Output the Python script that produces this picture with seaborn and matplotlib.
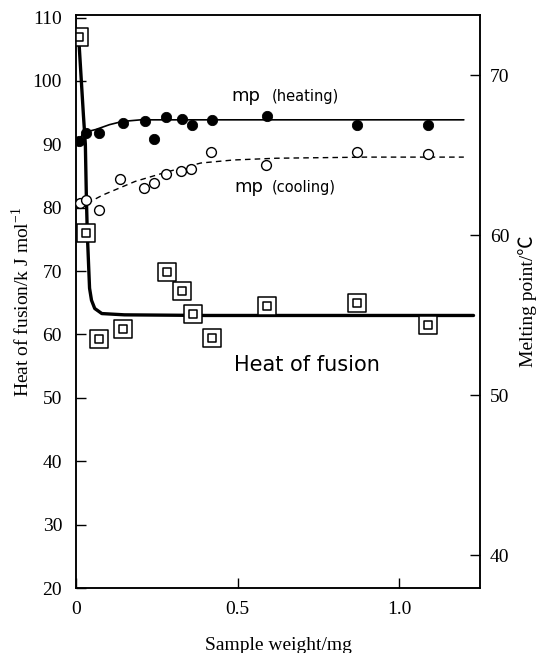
import matplotlib
matplotlib.use('Agg')
import matplotlib.pyplot as plt
import seaborn as sns

# heat of fusion (left axis, kJ/mol)
heat_w = [0.008, 0.032, 0.071, 0.144, 0.283, 0.329, 0.362, 0.420, 0.59, 0.87, 1.09]
heat_v = [107.0, 76.0, 59.3, 60.8, 69.8, 66.8, 63.3, 59.4, 64.5, 65.0, 61.5]
heat_curve_w = [0.010, 0.023, 0.029, 0.032, 0.035, 0.039, 0.042, 0.048, 0.058, 0.080, 0.15, 0.4, 0.8, 1.23]
heat_curve_v = [105.5, 94.6, 90.0, 82.0, 76.0, 71.0, 67.3, 65.4, 64.1, 63.3, 63.1, 63.0, 63.0, 63.0]

# melting points (right axis, deg C)
heat_mp_w = [0.008, 0.032, 0.071, 0.144, 0.215, 0.24, 0.278, 0.329, 0.36, 0.42, 0.59, 0.87, 1.09]
heat_mp_v = [65.85, 66.35, 66.35, 67.03, 67.1, 66.03, 67.35, 67.28, 66.9, 67.22, 67.47, 66.9, 66.9]
heat_mp_curve_w = [0.008, 0.023, 0.062, 0.104, 0.144, 0.2, 0.5, 0.9, 1.2]
heat_mp_curve_v = [65.85, 66.4, 66.6, 66.9, 67.1, 67.2, 67.2, 67.2, 67.2]

cool_mp_w = [0.011, 0.032, 0.071, 0.136, 0.211, 0.24, 0.278, 0.326, 0.357, 0.418, 0.587, 0.87, 1.09]
cool_mp_v = [62.0, 62.2, 61.56, 63.53, 62.97, 63.28, 63.84, 64.03, 64.1, 65.22, 64.4, 65.19, 65.06]
cool_mp_curve_w = [0.008, 0.083, 0.183, 0.286, 0.386, 0.487, 0.62, 0.9, 1.2]
cool_mp_curve_v = [61.7, 62.5, 63.35, 63.97, 64.5, 64.69, 64.8, 64.87, 64.87]

x_ticks = [0, 0.5, 1.0]
x_tick_labels = ['0', '0.5', '1.0']
left_ticks = list(range(20, 111, 10))
right_ticks = [40, 50, 60, 70]

sns.set_style('ticks')
plt.rcParams['font.family'] = ['Liberation Serif', 'Noto Sans CJK JP', 'DejaVu Sans']
plt.rcParams['mathtext.fontset'] = 'custom'
plt.rcParams['mathtext.rm'] = 'Liberation Serif'
for key in ['text.color', 'axes.labelcolor', 'xtick.color', 'ytick.color', 'axes.edgecolor']:
    plt.rcParams[key] = 'black'

fig = plt.figure(figsize=(5.49, 6.53), dpi=100)
ax = fig.add_axes([0.1384, 0.0995, 0.8743 - 0.1384, 0.977 - 0.0995])
ax2 = ax.twinx()

# heat of fusion
sns.lineplot(x=heat_curve_w, y=heat_curve_v, ax=ax, color='black', lw=2.4,
             sort=False, estimator=None)
sns.scatterplot(x=heat_w, y=heat_v, ax=ax, marker='s', s=160, facecolor='white',
                edgecolor='black', linewidth=1.1, zorder=5)
sns.scatterplot(x=heat_w, y=heat_v, ax=ax, marker='s', s=36, facecolor='white',
                edgecolor='black', linewidth=1.1, zorder=6)

# melting points
sns.lineplot(x=heat_mp_curve_w, y=heat_mp_curve_v, ax=ax2, color='black', lw=1.2,
             sort=False, estimator=None)
sns.lineplot(x=cool_mp_curve_w, y=cool_mp_curve_v, ax=ax2, color='black', lw=1.0,
             sort=False, estimator=None, linestyle=(0, (4, 3)))
sns.scatterplot(x=heat_mp_w, y=heat_mp_v, ax=ax2, marker='o', s=55, color='black',
                edgecolor='black', zorder=5)
sns.scatterplot(x=cool_mp_w, y=cool_mp_v, ax=ax2, marker='o', s=50, facecolor='white',
                edgecolor='black', linewidth=1.0, zorder=5)

ax.set_xlim(0, 1.25)
ax.set_ylim(20, 110.4)
ax2.set_ylim(37.94, 73.75)

ax.set_xticks(x_ticks)
ax.set_xticklabels(x_tick_labels)
ax.set_yticks(left_ticks)
ax2.set_yticks(right_ticks)

ax.tick_params(axis='both', direction='in', length=7, width=1, labelsize=14)
ax.tick_params(axis='x', pad=9)
ax.tick_params(axis='y', pad=10)
ax2.tick_params(axis='y', direction='in', length=7, width=1, labelsize=14, pad=7)

for a in (ax, ax2):
    for sp in a.spines.values():
        sp.set_visible(True)
        sp.set_linewidth(1.1)

ax.set_xlabel('Sample weight/mg', fontsize=14, labelpad=14)
ax.set_ylabel('Heat of fusion/k J mol$^{-1}$', fontsize=14, labelpad=0)
ax2.set_ylabel('Melting point/℃', fontsize=14, labelpad=6)

ax.text(0.48, 96.9, 'mp', fontsize=13, family='DejaVu Sans', va='baseline')
ax.text(0.605, 96.9, '(heating)', fontsize=10.5, family='DejaVu Sans', va='baseline')
ax.text(0.49, 82.4, 'mp', fontsize=13, family='DejaVu Sans', va='baseline')
ax.text(0.605, 82.4, '(cooling)', fontsize=10.5, family='DejaVu Sans', va='baseline')
ax.text(0.49, 55.2, 'Heat of fusion', fontsize=15, family='DejaVu Sans', va='center')

fig.savefig('out.png', dpi=100)
